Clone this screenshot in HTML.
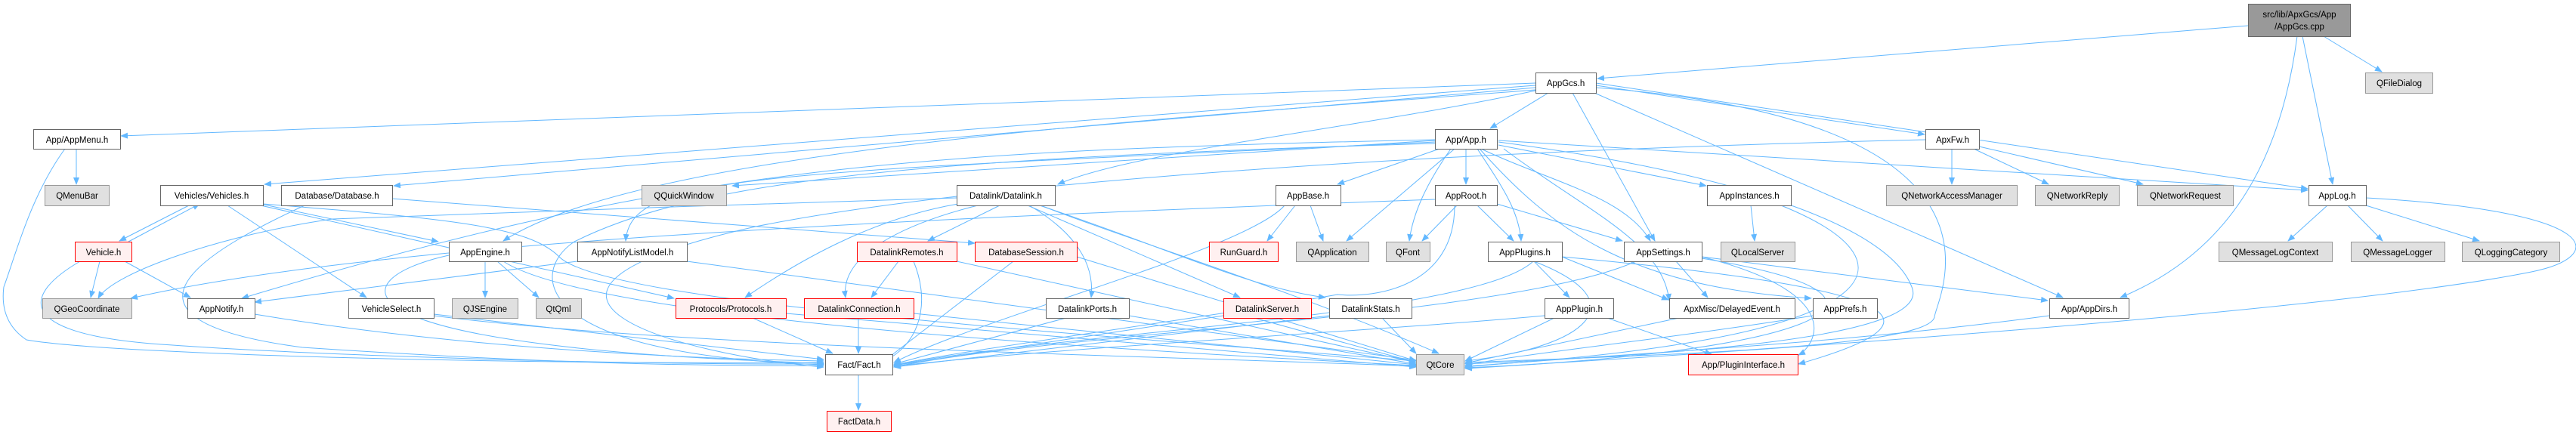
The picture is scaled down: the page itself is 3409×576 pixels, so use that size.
<!DOCTYPE html>
<html><head><meta charset="utf-8"><style>
html,body{margin:0;padding:0;background:#fff}
svg{display:block}
text{font-family:"Liberation Sans",sans-serif;font-size:11.5px;text-anchor:middle}
.e{fill:none;stroke:#63b8ff;stroke-width:1}
.w{fill:#fff;stroke:#666}
.g{fill:#e0e0e0;stroke:#999}
.r{fill:#fff0f0;stroke:#f00}
.s{fill:#999;stroke:#666}
</style></head><body>
<svg width="3409" height="576" viewBox="0 0 3409 576" xmlns="http://www.w3.org/2000/svg">
<defs><marker id="a" markerWidth="10" markerHeight="8" refX="9" refY="4" orient="auto" markerUnits="userSpaceOnUse"><path d="M0,0 L10,4 L0,8 z" fill="#63b8ff"/></marker></defs>
<g class="e" marker-end="url(#a)">
<path d="M2975,34 L2114,104"/>
<path d="M3075,48 L3152,95"/>
<path d="M3047,48 L3087,244"/>
<path d="M3040,48 C3020,200 2960,330 2806,394"/>
<path d="M2032,110 L160,180"/>
<path d="M2032,113 L350,244"/>
<path d="M2032,116 L521,246"/>
<path d="M2049,123 L1972,170"/>
<path d="M2032,120 C1800,170 1500,200 1400,244"/>
<path d="M2081,123 L2190,319"/>
<path d="M2112,113 L2547,178"/>
<path d="M2112,110 L3054,250"/>
<path d="M2110,123 L2730,394"/>
<path d="M2032,119 C1500,160 850,200 666,319"/>
<path d="M2112,116 C2700,160 2560,400 2560,420 C2550,460 2200,470 1939,480"/>
<path d="M1905,197 L1770,244"/>
<path d="M1925,197 L1782,319"/>
<path d="M1920,197 C1890,240 1870,280 1865,319"/>
<path d="M1940,197 L1940,244"/>
<path d="M1955,197 C1990,250 2010,280 2013,319"/>
<path d="M1960,197 C2050,240 2150,260 2184,319"/>
<path d="M1983,192 L2258,246"/>
<path d="M1958,197 C2050,300 2150,380 2397,395"/>
<path d="M1983,186 L3054,252"/>
<path d="M1899,186 L969,246"/>
<path d="M1899,188 C1000,230 835,230 828,319"/>
<path d="M1899,185 C1200,200 900,220 320,395"/>
<path d="M1899,190 C1200,210 920,240 760,320 C700,360 700,470 1090,483"/>
<path d="M1983,188 C2300,230 2500,300 2530,380 C2560,450 2200,470 1939,482"/>
<path d="M1990,197 C2100,280 2200,320 2209,398"/>
<path d="M2548,185 C1900,200 1300,240 1000,300 C600,390 900,470 1090,486"/>
<path d="M1899,264 C1200,290 500,320 173,395"/>
<path d="M1925,272 C1925,380 1820,395 1770,390 C1600,420 1300,460 1183,483"/>
<path d="M1928,272 L1882,319"/>
<path d="M1955,272 L2003,319"/>
<path d="M1981,270 L2147,319"/>
<path d="M1734,272 L1751,319"/>
<path d="M1714,272 L1677,319"/>
<path d="M1700,272 C1650,330 1300,420 1183,480"/>
<path d="M2357,272 C2550,350 2500,450 1939,485"/>
<path d="M2317,272 L2322,319"/>
<path d="M2029,346 C1950,420 1400,440 1183,484"/>
<path d="M2030,346 L2077,394"/>
<path d="M2030,346 C2170,400 2100,460 1939,478"/>
<path d="M2067,340 C2500,380 2600,420 2380,482"/>
<path d="M2067,340 L2208,397"/>
<path d="M2165,346 C2000,420 1400,440 1183,486"/>
<path d="M2218,346 L2260,394"/>
<path d="M2252,340 L2710,398"/>
<path d="M2252,342 C2600,400 2350,470 1939,487"/>
<path d="M2252,340 C2450,390 2400,460 2380,470"/>
<path d="M2057,421 L1939,478"/>
<path d="M2127,421 L2265,469"/>
<path d="M2044,418 C1800,440 1400,460 1183,485"/>
<path d="M2222,421 L1939,481"/>
<path d="M2399,418 C2200,450 2000,470 1939,484"/>
<path d="M2712,418 C2400,460 2100,470 1939,486"/>
<path d="M3080,272 L3028,319"/>
<path d="M3107,272 L3153,319"/>
<path d="M3131,272 L3281,319"/>
<path d="M3131,262 C3450,280 3450,340 3350,360 C3100,410 2400,460 1939,488"/>
<path d="M2583,197 L2583,244"/>
<path d="M2612,197 L2711,244"/>
<path d="M2619,194 L2836,244"/>
<path d="M1323,272 L1228,319"/>
<path d="M1298,271 C1220,290 1110,330 1119,394"/>
<path d="M1268,270 C1150,290 1050,350 986,394"/>
<path d="M1362,272 C1410,300 1450,340 1444,394"/>
<path d="M1360,272 L1641,394"/>
<path d="M1370,270 C1550,330 1650,380 1754,394"/>
<path d="M1372,270 C1500,320 1700,380 1904,468"/>
<path d="M1266,262 C1000,270 700,280 440,290 C300,310 150,360 130,395"/>
<path d="M1189,346 L1153,394"/>
<path d="M1209,346 C1235,410 1210,460 1170,478"/>
<path d="M1266,346 L1874,480"/>
<path d="M1341,346 L1170,478"/>
<path d="M1425,340 L1874,478"/>
<path d="M1136,421 L1136,468"/>
<path d="M1209,415 L1874,483"/>
<path d="M996,421 L1102,468"/>
<path d="M1040,415 L1874,486"/>
<path d="M1422,418 L1183,482"/>
<path d="M1494,418 L1874,482"/>
<path d="M1619,418 L1183,484"/>
<path d="M1660,421 L1874,480"/>
<path d="M1759,418 L1183,486"/>
<path d="M1829,421 L1874,468"/>
<path d="M1136,496 L1136,543"/>
<path d="M519,263 L1290,322"/>
<path d="M403,272 C300,320 100,420 400,460 C700,480 900,485 1090,484"/>
<path d="M250,272 L158,319"/>
<path d="M170,320 L264,270"/>
<path d="M345,270 L580,320"/>
<path d="M301,272 L485,394"/>
<path d="M348,270 C600,290 700,300 740,340 C800,400 1400,440 1874,478"/>
<path d="M345,272 L892,395"/>
<path d="M132,346 L120,394"/>
<path d="M165,346 L252,394"/>
<path d="M106,346 C30,390 20,440 200,455 C400,470 800,483 1090,482"/>
<path d="M86,197 C40,260 20,340 5,380 C0,420 20,440 35,450 C150,470 700,483 1090,480"/>
<path d="M101,197 L101,244"/>
<path d="M642,346 L642,394"/>
<path d="M658,346 L713,394"/>
<path d="M594,338 C450,370 420,460 1090,481"/>
<path d="M666,346 C780,420 1400,460 1874,484"/>
<path d="M764,346 L337,400"/>
<path d="M909,346 L1874,477"/>
<path d="M337,416 C600,460 900,475 1090,478"/>
<path d="M574,418 C900,460 1500,470 1874,485"/>
<path d="M574,416 L1090,476"/>
</g>
<g>
<rect class="s" x="2975.5" y="5.5" width="135" height="43"/><text x="3043" y="23">src/lib/ApxGcs/App</text><text x="3043" y="39">/AppGcs.cpp</text>
<rect class="w" x="2032.5" y="96.5" width="80" height="27"/><text x="2072" y="114">AppGcs.h</text>
<rect class="g" x="3130.5" y="96.5" width="89" height="27"/><text x="3175" y="114">QFileDialog</text>
<rect class="w" x="44.5" y="171.5" width="115" height="26"/><text x="102" y="189">App/AppMenu.h</text>
<rect class="w" x="1899.5" y="171.5" width="82" height="26"/><text x="1940" y="189">App/App.h</text>
<rect class="w" x="2548.5" y="171.5" width="71" height="26"/><text x="2584" y="189">ApxFw.h</text>
<rect class="g" x="59.5" y="245.5" width="85" height="27"/><text x="102" y="263">QMenuBar</text>
<rect class="w" x="212.5" y="245.5" width="136" height="27"/><text x="280" y="263">Vehicles/Vehicles.h</text>
<rect class="w" x="372.5" y="245.5" width="147" height="27"/><text x="446" y="263">Database/Database.h</text>
<rect class="g" x="849.5" y="245.5" width="112" height="27"/><text x="905" y="263">QQuickWindow</text>
<rect class="w" x="1266.5" y="245.5" width="130" height="27"/><text x="1331" y="263">Datalink/Datalink.h</text>
<rect class="w" x="1688.5" y="245.5" width="86" height="27"/><text x="1731" y="263">AppBase.h</text>
<rect class="w" x="1899.5" y="245.5" width="82" height="27"/><text x="1940" y="263">AppRoot.h</text>
<rect class="w" x="2259.5" y="245.5" width="111" height="27"/><text x="2315" y="263">AppInstances.h</text>
<rect class="g" x="2496.5" y="245.5" width="173" height="27"/><text x="2583" y="263">QNetworkAccessManager</text>
<rect class="g" x="2693.5" y="245.5" width="111" height="27"/><text x="2749" y="263">QNetworkReply</text>
<rect class="g" x="2828.5" y="245.5" width="127" height="27"/><text x="2892" y="263">QNetworkRequest</text>
<rect class="w" x="3055.5" y="245.5" width="76" height="27"/><text x="3093" y="263">AppLog.h</text>
<rect class="r" x="99.5" y="320.5" width="75" height="26"/><text x="137" y="338">Vehicle.h</text>
<rect class="w" x="594.5" y="320.5" width="96" height="26"/><text x="642" y="338">AppEngine.h</text>
<rect class="w" x="764.5" y="320.5" width="145" height="26"/><text x="837" y="338">AppNotifyListModel.h</text>
<rect class="r" x="1134.5" y="320.5" width="132" height="26"/><text x="1200" y="338">DatalinkRemotes.h</text>
<rect class="r" x="1290.5" y="320.5" width="135" height="26"/><text x="1358" y="338">DatabaseSession.h</text>
<rect class="r" x="1600.5" y="320.5" width="91" height="26"/><text x="1646" y="338">RunGuard.h</text>
<rect class="g" x="1715.5" y="320.5" width="96" height="26"/><text x="1763" y="338">QApplication</text>
<rect class="g" x="1834.5" y="320.5" width="58" height="26"/><text x="1863" y="338">QFont</text>
<rect class="w" x="1969.5" y="320.5" width="98" height="26"/><text x="2018" y="338">AppPlugins.h</text>
<rect class="w" x="2149.5" y="320.5" width="103" height="26"/><text x="2201" y="338">AppSettings.h</text>
<rect class="g" x="2277.5" y="320.5" width="98" height="26"/><text x="2326" y="338">QLocalServer</text>
<rect class="g" x="2936.5" y="320.5" width="150" height="26"/><text x="3011" y="338">QMessageLogContext</text>
<rect class="g" x="3111.5" y="320.5" width="124" height="26"/><text x="3173" y="338">QMessageLogger</text>
<rect class="g" x="3258.5" y="320.5" width="129" height="26"/><text x="3323" y="338">QLoggingCategory</text>
<rect class="g" x="56.5" y="395.5" width="118" height="26"/><text x="115" y="413">QGeoCoordinate</text>
<rect class="w" x="248.5" y="395.5" width="89" height="26"/><text x="293" y="413">AppNotify.h</text>
<rect class="w" x="461.5" y="395.5" width="113" height="26"/><text x="518" y="413">VehicleSelect.h</text>
<rect class="g" x="598.5" y="395.5" width="87" height="26"/><text x="642" y="413">QJSEngine</text>
<rect class="g" x="709.5" y="395.5" width="60" height="26"/><text x="739" y="413">QtQml</text>
<rect class="r" x="894.5" y="395.5" width="146" height="26"/><text x="967" y="413">Protocols/Protocols.h</text>
<rect class="r" x="1064.5" y="395.5" width="145" height="26"/><text x="1137" y="413">DatalinkConnection.h</text>
<rect class="w" x="1384.5" y="395.5" width="110" height="26"/><text x="1439" y="413">DatalinkPorts.h</text>
<rect class="r" x="1619.5" y="395.5" width="116" height="26"/><text x="1677" y="413">DatalinkServer.h</text>
<rect class="w" x="1759.5" y="395.5" width="109" height="26"/><text x="1814" y="413">DatalinkStats.h</text>
<rect class="w" x="2044.5" y="395.5" width="91" height="26"/><text x="2090" y="413">AppPlugin.h</text>
<rect class="w" x="2209.5" y="395.5" width="166" height="26"/><text x="2292" y="413">ApxMisc/DelayedEvent.h</text>
<rect class="w" x="2399.5" y="395.5" width="85" height="26"/><text x="2442" y="413">AppPrefs.h</text>
<rect class="w" x="2712.5" y="395.5" width="105" height="26"/><text x="2765" y="413">App/AppDirs.h</text>
<rect class="w" x="1092.5" y="469.5" width="89" height="27"/><text x="1137" y="487">Fact/Fact.h</text>
<rect class="g" x="1874.5" y="469.5" width="63" height="27"/><text x="1906" y="487">QtCore</text>
<rect class="r" x="2234.5" y="469.5" width="145" height="27"/><text x="2307" y="487">App/PluginInterface.h</text>
<rect class="r" x="1094.5" y="544.5" width="85" height="27"/><text x="1137" y="562">FactData.h</text>
</g>
</svg>
</body></html>
